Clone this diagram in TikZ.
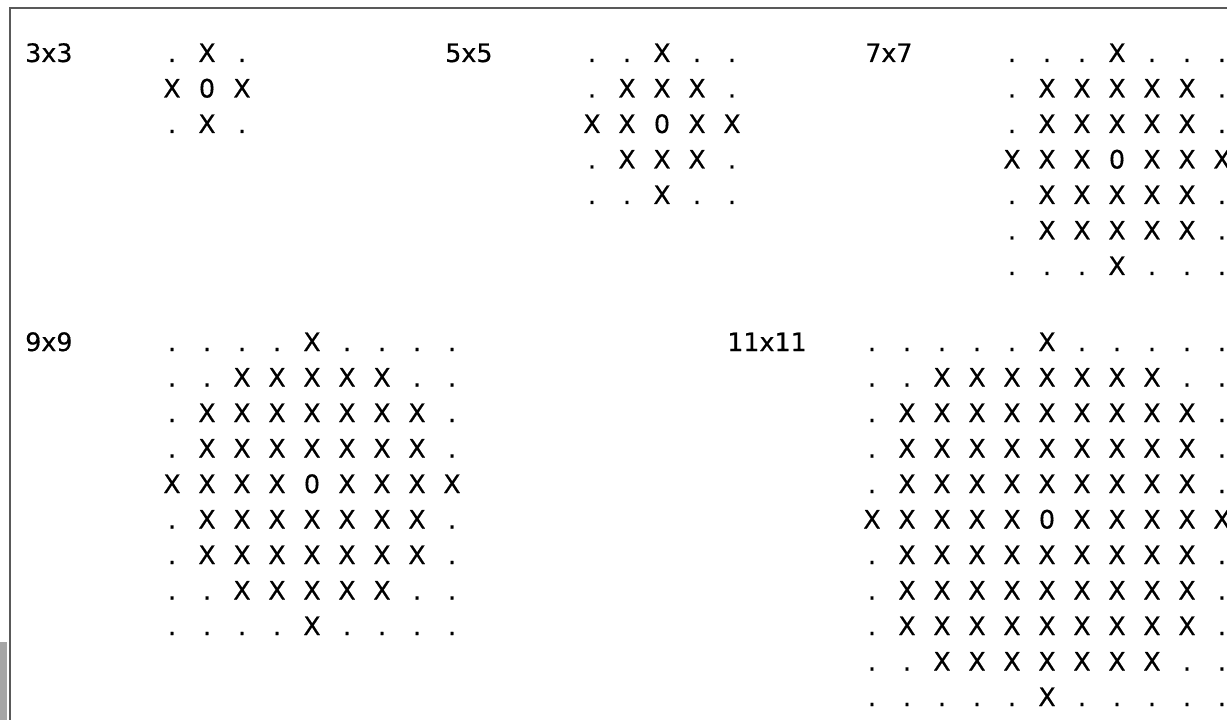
\documentclass[tikz,border=0pt]{standalone}
\usepackage{fontspec}
\setmainfont{DejaVu Sans}[FakeBold=0.4]
\newcommand{\kgrid}[4]{%
  \pgfmathtruncatemacro{\kr}{(#2-1)/2}%
  \pgfmathtruncatemacro{\krr}{\kr*\kr}%
  \pgfmathtruncatemacro{\kn}{#2-1}%
  \foreach \i in {0,...,\kn}{%
    \foreach \j in {0,...,\kn}{%
      \pgfmathtruncatemacro{\dd}{(\i-\kr)*(\i-\kr)+(\j-\kr)*(\j-\kr)}%
      \ifnum\dd=0 \def\kch{0}\else\ifnum\dd>\krr\relax\def\kch{.}\else\def\kch{X}\fi\fi
      \node[cell] (#1-\i-\j) at ({#3+35*\j},{#4+9+35.5*\i}) {\kch};
    }%
  }%
}
\begin{document}
\begin{tikzpicture}[x=0.75pt,y=-0.75pt,
  cell/.style={inner sep=0pt, anchor=base, text=black, font=\fontsize{19}{19}\selectfont},
  lbl/.style={inner sep=0pt, anchor=base west, text=black, font=\fontsize{19}{19}\selectfont},
  frame/.style={draw=black!65, line width=1.3pt}]
\useasboundingbox (0,0) rectangle (1227,720);
\clip (0,0) rectangle (1227,720);
\fill[white] (0,0) rectangle (1227,720);
\fill[black!35] (0,642) rectangle (6.5,720);
\draw[frame] (10,722) -- (10,8) -- (1229,8);
\node[lbl] (l3) at (25,62) {3x3};
\node[lbl] (l5) at (445,62) {5x5};
\node[lbl] (l7) at (865,62) {7x7};
\node[lbl] (l9) at (25,351) {9x9};
\node[lbl] (l11) at (727,351) {11x11};
\kgrid{g3}{3}{172}{53}
\kgrid{g5}{5}{592}{53}
\kgrid{g7}{7}{1012}{53}
\kgrid{g9}{9}{172}{342}
\kgrid{g11}{11}{872}{342}
\end{tikzpicture}
\end{document}
